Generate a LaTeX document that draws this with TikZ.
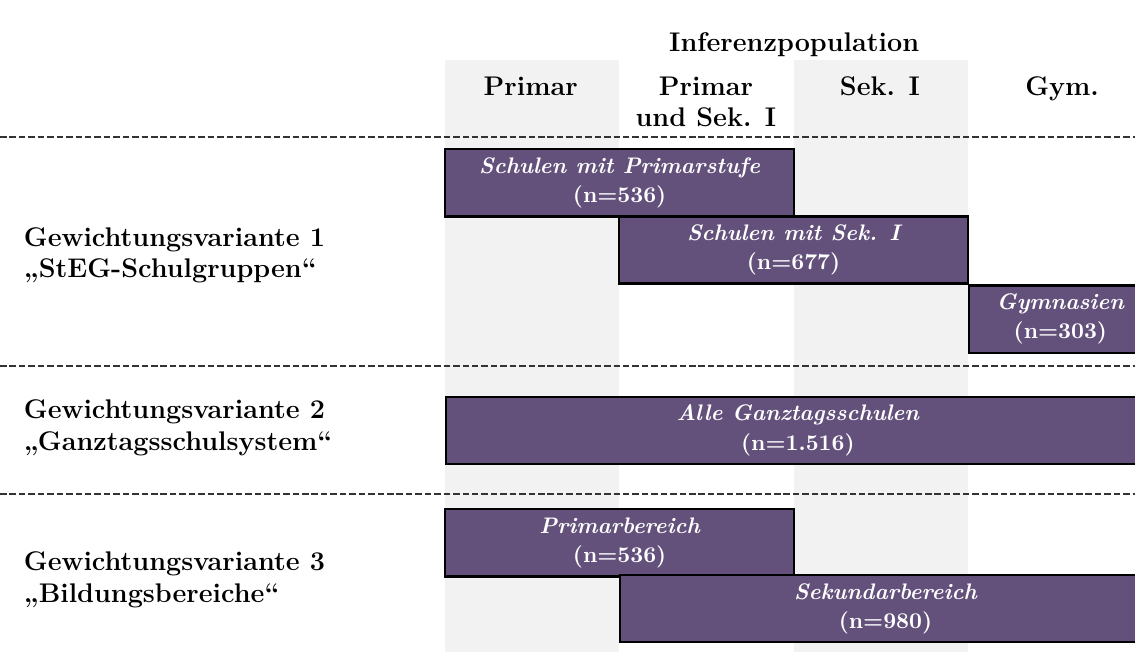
\documentclass[tikz,border=0pt]{standalone}
\usepackage{xcolor}
\usepackage{tikz}
\usetikzlibrary{positioning}

\definecolor{grpfill}{RGB}{99,81,124}
\definecolor{colgray}{RGB}{242,242,242}

\begin{document}
\begin{tikzpicture}[
  every node/.style={font=\large\bfseries},
  colbg/.style={fill=colgray, draw=none},
  sep/.style={dash pattern=on 2.9pt off 1.3pt, draw=black!80, line width=0.75pt},
  grp/.style={rectangle, draw=black, line width=1pt, fill=grpfill,
              text=white, align=center, inner sep=2pt,
              font=\fontsize{10}{13}\selectfont\bfseries, minimum height=1.05cm},
  hdr/.style={align=center, anchor=north},
  var/.style={align=left, anchor=west},
]

% canvas
\useasboundingbox (0,0) rectangle (17.75,-10.20);

%% ── column backgrounds ────────────────────────────────────────────────
\fill[colbg] (6.96,-0.94) rectangle (9.68,-10.20);
\fill[colbg] (12.42,-0.94) rectangle (15.14,-10.20);

%% ── headers ───────────────────────────────────────────────────────────
\node (inf) at (12.42,-0.70) {Inferenzpopulation};
\node[hdr] (hPri) at (8.30,-1.08) {Primar};
\node[hdr] (hPS)  at (11.04,-1.08) {Primar\\und Sek. I};
\node[hdr] (hSek) at (13.76,-1.08) {Sek. I};
\node[hdr] (hGym) at (16.61,-1.08) {Gym.};

%% ── separators ────────────────────────────────────────────────────────
\foreach \y in {-2.14,-5.72,-7.73}
  \draw[sep] (0,\y) -- (17.75,\y);

%% ── variant 1: StEG-Schulgruppen ──────────────────────────────────────
\node[var] (v1) at (0.25,-3.99) {Gewichtungsvariante 1\\„StEG-Schulgruppen“};
\node[grp, minimum width=5.46cm] (sPri) at (9.69,-2.86)
  {\itshape Schulen mit Primarstufe\\(n=536)};
\node[grp, minimum width=5.46cm] (sSek) at (12.41,-3.91)
  {\itshape Schulen mit Sek. I\\(n=677)};
\node[grp, minimum width=2.85cm, anchor=west] (sGym) at (15.14,-4.99)
  {\itshape Gymnasien\\(n=303)};

%% ── variant 2: Ganztagsschulsystem ────────────────────────────────────
\node[var] (v2) at (0.25,-6.69) {Gewichtungsvariante 2\\„Ganztagsschulsystem“};
\node[grp, minimum width=11cm, anchor=west] (gAll) at (6.96,-6.73)
  {\itshape Alle Ganztagsschulen\\(n=1.516)};

%% ── variant 3: Bildungsbereiche ───────────────────────────────────────
\node[var] (v3) at (0.25,-9.07) {Gewichtungsvariante 3\\„Bildungsbereiche“};
\node[grp, minimum width=5.46cm] (bPri) at (9.69,-8.49)
  {\itshape Primarbereich\\(n=536)};
\node[grp, minimum width=8.3cm, anchor=west] (bSek) at (9.68,-9.52)
  {\itshape Sekundarbereich\\(n=980)};

\end{tikzpicture}
\end{document}
